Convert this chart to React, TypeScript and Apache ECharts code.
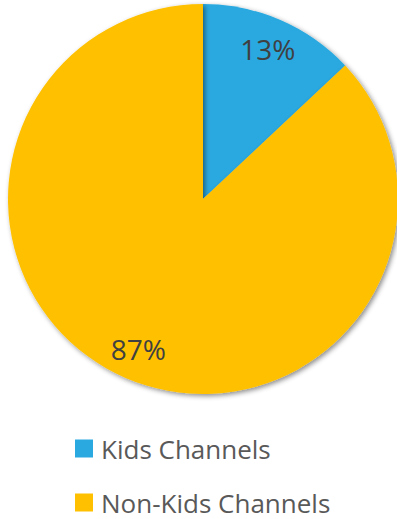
import React, { useEffect, useRef } from "react";
import * as echarts from "echarts";

const categories = ["Kids Channels", "Non-Kids Channels"];
const values = [13, 87];
const colors = ["#29A9E0", "#FFC000"];

export default function App() {
  const ref = useRef<HTMLDivElement>(null);
  useEffect(() => {
    document.body.style.margin = "0";
    const chart = echarts.init(ref.current!, null, { renderer: "svg" });
    const data = categories.map((name, i) => ({ name, value: values[i], itemStyle: { color: colors[i] } }));
    chart.setOption({
      animation: false,
      legend: {
        orient: "vertical",
        left: 75,
        top: 435,
        padding: 0,
        itemWidth: 18,
        itemHeight: 18,
        itemGap: 27,
        icon: "rect",
        data: categories,
        textStyle: {
          fontFamily: "Open Sans",
          fontSize: 26,
          color: "#595959",
          lineHeight: 27,
          padding: [0, 0, 0, 3],
        },
      },
      series: [
        {
          type: "pie",
          center: [203, 199],
          radius: [0, 195],
          startAngle: 90,
          clockwise: true,
          label: { show: false },
          labelLine: { show: false },
          itemStyle: {
            shadowBlur: 5,
            shadowOffsetX: 2,
            shadowOffsetY: 2,
            shadowColor: "rgba(0,0,0,0.45)",
          },
          emphasis: { disabled: true },
          data,
        },
        {
          type: "pie",
          center: [203, 199],
          radius: [125, 195],
          startAngle: 90,
          clockwise: true,
          silent: true,
          itemStyle: { color: "transparent" },
          label: {
            show: true,
            position: "inside",
            formatter: "{d}%",
            fontFamily: "Open Sans",
            fontSize: 28,
            color: "#404040",
          },
          labelLine: { show: false },
          emphasis: { disabled: true },
          data: categories.map((name, i) => ({ name, value: values[i] })),
        },
      ],
    });
    return () => chart.dispose();
  }, []);
  return <div ref={ref} style={{ width: 397, height: 519 }} />;
}
